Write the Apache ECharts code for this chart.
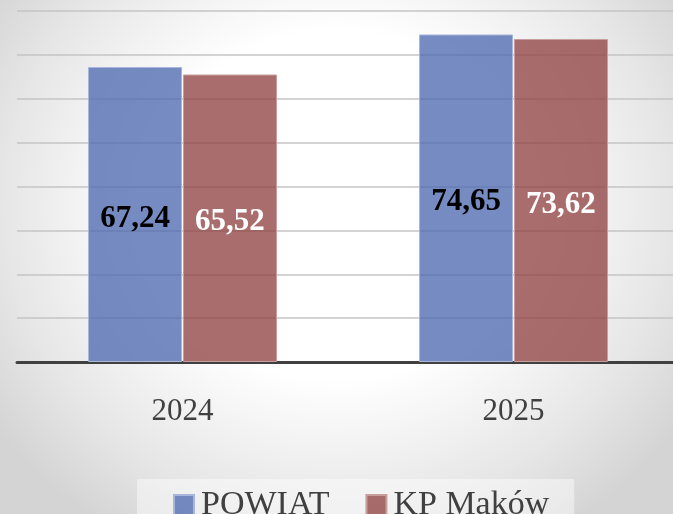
<!DOCTYPE html>
<html>
<head>
<meta charset="utf-8">
<script src="https://cdn.jsdelivr.net/npm/echarts@6/dist/echarts.min.js"></script>
<style>
html, body { margin: 0; padding: 0; }
body {
  width: 673px; height: 514px; overflow: hidden;
  background: radial-gradient(ellipse 62% 75% at 50% 40%, #ffffff 45%, #e6e6e6 80%, #d4d4d4 100%);
}
#chart { width: 673px; height: 514px; }
</style>
</head>
<body>
<div id="chart"></div>
<script>
var years = ['2024', '2025'];
var powiat = [67.24, 74.65];
var kpMakow = [65.52, 73.62];
var yTicks = { min: 0, max: 80, interval: 10 };

var chart = echarts.init(document.getElementById('chart'));

function fmt(p) {
  return p.value.toFixed(2).replace('.', ',');
}

chart.setOption({
  backgroundColor: 'transparent',
  animation: false,
  grid: { left: 17, top: 11, width: 662, height: 351, outerBoundsMode: 'none', containLabel: false },
  legend: {
    top: 479,
    left: 137,
    padding: [9, 25, 10, 36],
    backgroundColor: 'rgba(255,255,255,0.45)',
    itemWidth: 20,
    itemHeight: 20,
    itemGap: 36,
    icon: 'rect',
    textStyle: { fontFamily: 'Liberation Serif', fontSize: 34, color: '#404040', padding: [0, 0, 0, 2] },
    data: ['POWIAT', 'KP Maków']
  },
  xAxis: {
    type: 'category',
    data: years,
    axisLine: { lineStyle: { color: '#404040', width: 3 } },
    axisTick: { show: false },
    axisLabel: { fontFamily: 'Liberation Serif', fontSize: 31, color: '#404040', margin: 34 }
  },
  yAxis: {
    type: 'value',
    min: yTicks.min,
    max: yTicks.max,
    interval: yTicks.interval,
    axisLabel: { show: false },
    axisLine: { show: false },
    axisTick: { show: false },
    splitLine: { lineStyle: { color: '#c4c4c4', width: 1.5 } }
  },
  series: [
    {
      name: 'POWIAT',
      type: 'bar',
      data: powiat,
      barWidth: 94,
      barGap: '1%',
      itemStyle: { color: 'rgba(80,106,176,0.78)', borderColor: '#a9b6dc', borderWidth: 1 },
      label: {
        show: true, position: 'inside', offset: [0, 4], formatter: fmt,
        fontFamily: 'Liberation Serif', fontWeight: 'bold', fontSize: 31, color: '#000'
      }
    },
    {
      name: 'KP Maków',
      type: 'bar',
      data: kpMakow,
      barWidth: 94,
      itemStyle: { color: 'rgba(146,68,68,0.78)', borderColor: '#c99d9d', borderWidth: 1 },
      label: {
        show: true, position: 'inside', offset: [0, 4], formatter: fmt,
        fontFamily: 'Liberation Serif', fontWeight: 'bold', fontSize: 31, color: '#fff'
      }
    }
  ]
});
</script>
</body>
</html>
